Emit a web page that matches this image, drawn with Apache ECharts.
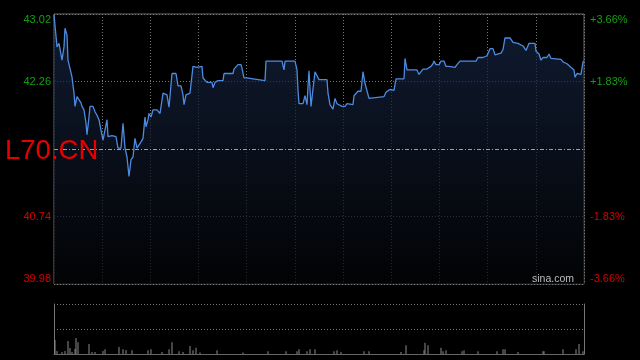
<!DOCTYPE html>
<html>
<head>
<meta charset="utf-8">
<script src="https://cdn.jsdelivr.net/npm/echarts@6/dist/echarts.min.js"></script>
<style>
html,body{margin:0;padding:0;background:#000;}
#chart{width:640px;height:360px;}
</style>
</head>
<body>
<div id="chart"></div>
<script>
// Intraday price (time in session units 0..530, price)
const times = [
0,3,5,6,8,10,11,13,14,15,17,18,20,21,23,25,27,28,30,32,33,35,36,39,41,43,45,47,49,51,53,54,56,58,60,62,64,67,69,70,71,73,75,77,79,81,83,85,87,89,91,92,94,95,97,99,103,106,
109,111,113,115,116,118,122,124,127,129,130,132,134,136,138,139,141,143,145,148,149,151,153,158,159,161,164,169,170,179,180,182,184,187,188,190,193,199,201,211,212,
228,230,231,241,243,244,245,249,251,253,254,255,257,259,261,263,265,273,274,276,278,279,281,283,285,288,291,293,295,299,300,302,304,307,309,311,313,315,317,
330,332,334,336,338,340,342,350,351,353,363,365,367,369,371,373,375,377,379,380,382,385,387,390,392,395,397,401,403,406,422,424,
429,431,433,435,436,439,441,443,447,449,451,456,459,464,466,469,472,474,475,481,482,485,487,489,493,495,497,499,507,509,513,516,518,520,521,523,525,527,528,529,530
];
const prices = [
43.01,42.65,42.69,42.67,42.50,42.65,42.86,42.78,42.50,42.52,42.36,42.31,42.13,41.98,42.09,42.11,42.02,41.98,41.94,41.79,41.66,41.86,41.98,41.98,41.92,41.88,41.83,41.71,41.60,41.62,41.83,41.64,41.62,41.65,41.64,41.64,41.51,41.51,41.79,41.79,41.51,41.41,41.19,41.38,41.41,41.62,41.51,41.53,41.58,41.62,41.86,41.75,41.83,41.90,41.86,41.94,41.94,41.90,
42.13,42.12,42.11,41.97,41.97,42.35,42.35,42.21,42.21,42.11,42.00,42.11,42.10,42.13,42.15,42.43,42.45,42.42,42.43,42.43,42.30,42.28,42.25,42.25,42.19,42.25,42.27,42.27,42.35,42.35,42.40,42.42,42.45,42.45,42.41,42.30,42.30,42.29,42.27,42.27,42.49,
42.49,42.39,42.49,42.49,42.39,42.16,42.01,42.01,42.10,42.00,42.20,42.38,41.98,41.98,42.37,42.37,42.28,42.28,42.13,42.00,41.98,41.95,42.07,42.01,42.00,41.98,41.98,42.01,42.00,42.00,42.10,42.12,42.15,42.15,42.37,42.24,42.23,42.07,42.09,
42.09,42.14,42.15,42.17,42.18,42.16,42.29,42.29,42.52,42.39,42.39,42.34,42.33,42.40,42.41,42.40,42.42,42.43,42.46,42.49,42.45,42.45,42.49,42.49,42.43,42.43,42.42,42.42,42.45,42.49,42.49,42.53,
42.53,42.51,42.55,42.57,42.63,42.63,42.56,42.58,42.58,42.62,42.75,42.75,42.70,42.69,42.67,42.66,42.61,42.61,42.69,42.69,42.60,42.57,42.50,42.53,42.53,42.57,42.52,42.51,42.51,42.48,42.46,42.43,42.41,42.39,42.31,42.35,42.37,42.34,42.33,42.48,42.49
];
// Volume spikes
const volTimes = [1,3,8,11,14,16,18,21,22,24,35,38,41,49,51,65,69,72,78,94,97,108,115,118,125,129,136,139,142,146,163,189,214,232,243,245,253,256,261,280,283,287,310,315,347,352,370,371,374,387,389,392,408,410,424,443,449,451,464,489,490,509,522,525,529];
const volumes = [1400,300,200,300,1300,600,200,500,1600,1170,1000,200,200,300,470,700,470,400,370,370,470,200,470,1170,270,200,800,370,630,150,370,150,270,270,270,470,270,470,470,270,370,200,270,270,200,870,370,1130,870,630,270,370,270,370,270,270,470,470,200,270,270,470,470,1000,270];

const prevClose = 41.50;
const priceMin = 39.98, priceMax = 43.02, priceStep = 0.76;
const sessionLen = 530;
const symbolText = 'L70.CN';
const sourceText = 'sina.com';

const GREEN = '#12a012', RED = '#d40000';
const FONT = '"Liberation Sans", Arial, Helvetica, sans-serif';

const chart = echarts.init(document.getElementById('chart'));
const eq = (a,b) => Math.abs(a-b) < 1e-6;

chart.setOption({
  backgroundColor: '#000',
  animation: false,
  textStyle: { fontFamily: FONT },
  grid: [
    { left: 54, top: 14, width: 530, height: 270, show: true, borderColor: '#6a6a6a', borderWidth: 1, backgroundColor: 'transparent' },
    { left: 54, top: 304, width: 530, height: 50 }
  ],
  xAxis: [
    { type: 'value', gridIndex: 0, min: 0, max: sessionLen, interval: sessionLen / 11,
      axisLine: { show: false }, axisTick: { show: false }, axisLabel: { show: false },
      splitLine: { show: true, lineStyle: { color: '#777', type: [1, 2], width: 1 } } },
    { type: 'value', gridIndex: 1, min: 0, max: sessionLen,
      axisLine: { show: true, lineStyle: { color: '#666' } }, axisTick: { show: false }, axisLabel: { show: false },
      splitLine: { show: false } }
  ],
  yAxis: [
    { type: 'value', gridIndex: 0, min: priceMin, max: priceMax, interval: priceStep, position: 'left',
      axisLine: { show: false }, axisTick: { show: false },
      splitLine: { show: true, lineStyle: { color: '#777', type: [1, 2], width: 1 } },
      axisLabel: {
        margin: 3, fontSize: 11, fontFamily: FONT,
        verticalAlignMaxLabel: 'top', verticalAlignMinLabel: 'bottom',
        formatter: v => eq(v, prevClose) ? '' : v.toFixed(2),
        color: v => v > prevClose ? GREEN : RED
      } },
    { type: 'value', gridIndex: 0, min: priceMin, max: priceMax, interval: priceStep, position: 'right',
      axisLine: { show: false }, axisTick: { show: false }, splitLine: { show: false },
      axisLabel: {
        margin: 6, fontSize: 11, fontFamily: FONT,
        verticalAlignMaxLabel: 'top', verticalAlignMinLabel: 'bottom',
        formatter: v => {
          if (eq(v, prevClose)) return '';
          const pct = (v - prevClose) / prevClose * 100;
          return (pct > 0 ? '+' : '') + pct.toFixed(2) + '%';
        },
        color: v => v > prevClose ? GREEN : RED
      } },
    { type: 'value', gridIndex: 1, min: 0, max: 5000, interval: 2500, position: 'left',
      axisLine: { show: true, lineStyle: { color: '#777' } }, axisTick: { show: false }, axisLabel: { show: false },
      splitLine: { show: true, lineStyle: { color: '#777', type: [1, 2], width: 1 } } },
    { type: 'value', gridIndex: 1, min: 0, max: 5000, position: 'right',
      axisLine: { show: true, lineStyle: { color: '#777' } }, axisTick: { show: false }, axisLabel: { show: false },
      splitLine: { show: false } }
  ],
  series: [
    { type: 'line', xAxisIndex: 0, yAxisIndex: 0,
      data: times.map((t, i) => [t, prices[i]]),
      showSymbol: false, symbol: 'none',
      lineStyle: { color: '#4d8ae0', width: 1.3 },
      areaStyle: { origin: 'start', color: new echarts.graphic.LinearGradient(0, 0, 0, 1, [
        { offset: 0, color: '#172746' }, { offset: 1, color: '#030406' }
      ]) },
      markLine: { silent: true, symbol: 'none', label: { show: false },
        lineStyle: { color: '#a0a0a0', type: [4, 2, 1, 2], width: 1 },
        data: [{ yAxis: prevClose }] },
      z: 3 },
    { type: 'bar', xAxisIndex: 1, yAxisIndex: 2,
      data: volTimes.map((t, i) => [t, volumes[i]]),
      barWidth: 1, itemStyle: { color: '#8a8a8a' } }
  ],
  graphic: [
    { type: 'text', x: 5, y: 151, z: 100,
      style: { text: symbolText, fill: '#e60000', fontSize: 27.5, fontFamily: FONT, verticalAlign: 'middle', align: 'left' } },
    { type: 'text', x: 532, y: 279, z: 100,
      style: { text: sourceText, fill: '#bdbdbd', fontSize: 10.5, fontFamily: FONT, verticalAlign: 'middle', align: 'left' } }
  ]
});
</script>
</body>
</html>
